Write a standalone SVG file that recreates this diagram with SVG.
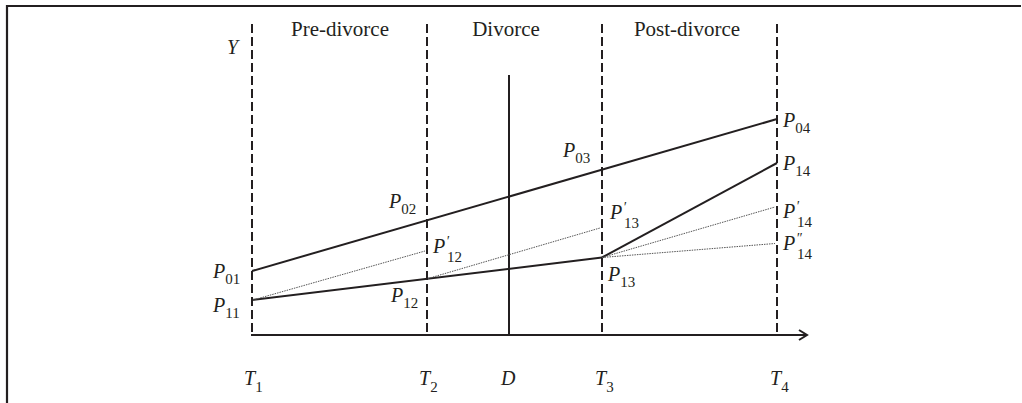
<svg xmlns="http://www.w3.org/2000/svg" width="1022" height="403" viewBox="0 0 1022 403">
<style>
.frame{fill:none;stroke:#231f20;stroke-width:2.2}
.dash{stroke:#231f20;stroke-width:2;stroke-dasharray:9 4;fill:none}
.solid{stroke:#231f20;stroke-width:2;fill:none}
.dot{stroke:#555;stroke-width:1;stroke-dasharray:1.5 1;fill:none}
.lbl{font-family:"Liberation Serif",serif;font-size:21px;fill:#231f20}
.var{font-family:"Liberation Serif",serif;font-size:20px;font-style:italic;fill:#231f20}
.sub{font-family:"Liberation Serif",serif;font-size:15px;font-style:normal;fill:#231f20}
.pr{font-family:"Liberation Serif",serif;font-size:14px;font-style:italic;fill:#231f20}
</style>
<defs>
<marker id="arr" markerWidth="12" markerHeight="12" refX="10" refY="6" orient="auto" markerUnits="userSpaceOnUse">
<path d="M2,1 L10,6 L2,11" fill="none" stroke="#231f20" stroke-width="2"/>
</marker>
</defs>
<path class="frame" d="M7,403 L7,6 L1021,6"/>
<g id="headings">
<text class="lbl" x="340" y="36" text-anchor="middle">Pre-divorce</text>
<text class="lbl" x="506" y="36" text-anchor="middle">Divorce</text>
<text class="lbl" x="687" y="36" text-anchor="middle">Post-divorce</text>
</g>
<g id="guides">
<line class="dash" x1="252" y1="24" x2="252" y2="335"/>
<line class="dash" x1="427" y1="24" x2="427" y2="335"/>
<line class="dash" x1="602" y1="24" x2="602" y2="335"/>
<line class="dash" x1="777" y1="24" x2="777" y2="335"/>
<line class="solid" x1="509" y1="75" x2="509" y2="335"/>
</g>
<g id="connectors">
<line class="solid" x1="251" y1="335" x2="807" y2="335" marker-end="url(#arr)"/>
<line class="solid" x1="252" y1="271" x2="777" y2="119"/>
<line class="solid" x1="252" y1="300" x2="602" y2="257.5"/>
<line class="solid" x1="602" y1="257.5" x2="777" y2="163"/>
<line class="dot" x1="253" y1="300" x2="425" y2="251"/>
<line class="dot" x1="428" y1="278.5" x2="600" y2="228"/>
<line class="dot" x1="602" y1="257.5" x2="775" y2="207"/>
<line class="dot" x1="602" y1="257.5" x2="775" y2="243.5"/>
</g>
<g id="axis-labels">
<text class="var" x="227" y="54">Y</text>
<text class="var" x="244" y="385">T<tspan class="sub" dy="7">1</tspan></text>
<text class="var" x="419" y="385">T<tspan class="sub" dy="7">2</tspan></text>
<text class="var" x="501" y="385">D</text>
<text class="var" x="595" y="385">T<tspan class="sub" dy="7">3</tspan></text>
<text class="var" x="770" y="385">T<tspan class="sub" dy="7">4</tspan></text>
</g>
<g id="P01"><text class="var" x="213" y="278">P<tspan class="sub" dy="6">01</tspan></text></g>
<g id="P11"><text class="var" x="213" y="312">P<tspan class="sub" dy="6">11</tspan></text></g>
<g id="P02"><text class="var" x="389" y="208">P<tspan class="sub" dy="6">02</tspan></text></g>
<g id="P12"><text class="var" x="391" y="302">P<tspan class="sub" dy="6">12</tspan></text></g>
<g id="P12p"><text class="var" x="433" y="253">P</text><text class="pr" x="446" y="246">′</text><text class="sub" x="447" y="262">12</text></g>
<g id="P03"><text class="var" x="563" y="157">P<tspan class="sub" dy="6">03</tspan></text></g>
<g id="P13p"><text class="var" x="610" y="219">P</text><text class="pr" x="623" y="212">′</text><text class="sub" x="624" y="228">13</text></g>
<g id="P13"><text class="var" x="608" y="281">P<tspan class="sub" dy="6">13</tspan></text></g>
<g id="P04"><text class="var" x="783" y="127">P<tspan class="sub" dy="6">04</tspan></text></g>
<g id="P14"><text class="var" x="783" y="170">P<tspan class="sub" dy="6">14</tspan></text></g>
<g id="P14p"><text class="var" x="783" y="218">P</text><text class="pr" x="796" y="211">′</text><text class="sub" x="797" y="227">14</text></g>
<g id="P14pp"><text class="var" x="783" y="250">P</text><text class="pr" x="796" y="243">″</text><text class="sub" x="797" y="259">14</text></g>
</svg>
